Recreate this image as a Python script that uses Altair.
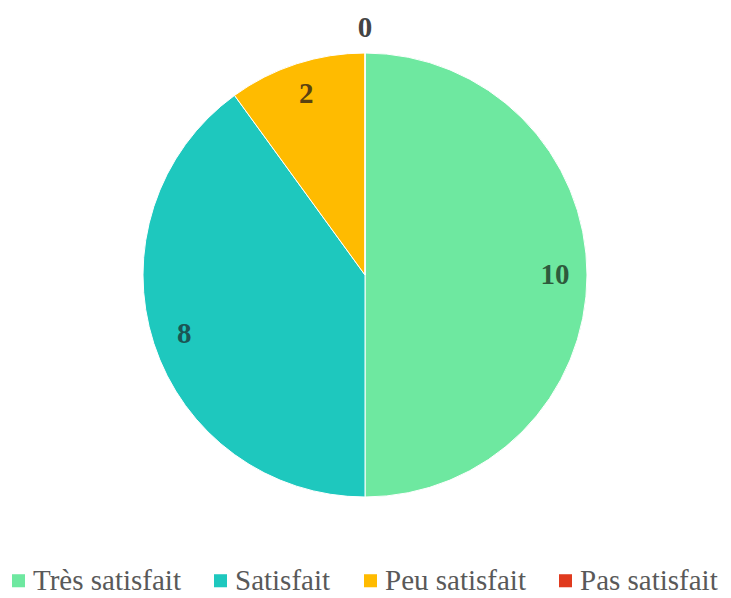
import altair as alt
import pandas as pd

categories = ["Très satisfait", "Satisfait", "Peu satisfait", "Pas satisfait"]
values = [10, 8, 2, 0]
slice_colors = ["#6EE8A0", "#1EC8BE", "#FFBB00", "#E03A1E"]
label_colors = ["#2E5A3C", "#1B5654", "#5A4212", "#444444"]

df = pd.DataFrame({"cat": categories, "value": values, "order": list(range(len(categories)))})

cx, cy = 357, 267

base = alt.Chart(df).encode(
    theta=alt.Theta("value:Q", stack=True),
    order=alt.Order("order:Q"),
    x=alt.value(cx),
    y=alt.value(cy),
)

pie = base.mark_arc(outerRadius=222, stroke="#ffffff", strokeWidth=1).encode(
    color=alt.Color(
        "cat:N",
        sort=categories,
        scale=alt.Scale(domain=categories, range=slice_colors),
        legend=alt.Legend(
            title=None,
            orient="none",
            legendX=-4,
            legendY=558,
            direction="horizontal",
            symbolType="square",
            symbolSize=170,
            symbolStrokeWidth=0,
            labelOffset=0,
            columnPadding=25,
            padding=0,
            labelLimit=400,
            labelFont="Liberation Serif",
            labelFontSize=29,
            labelColor="#595959",
        ),
    )
)

text_common = dict(font="Liberation Serif", fontSize=29, fontWeight="bold", align="center", baseline="middle")

labels_in = base.transform_filter("datum.value > 0").mark_text(radius=190, **text_common).encode(
    text=alt.Text("value:Q"),
    color=alt.Color("cat:N", scale=alt.Scale(domain=categories, range=label_colors), legend=None),
)
labels_out = base.transform_filter("datum.value == 0").mark_text(radius=247, **text_common).encode(
    text=alt.Text("value:Q"),
    color=alt.Color("cat:N", scale=alt.Scale(domain=categories, range=label_colors), legend=None),
)

chart = (
    alt.layer(pie, labels_in, labels_out)
    .resolve_scale(color="independent")
    .properties(width=715, height=582, autosize=alt.AutoSizeParams(type="none"), padding=0)
    .configure_view(stroke=None)
)

chart.save("out.html", embed_options={"renderer": "svg", "actions": False})
